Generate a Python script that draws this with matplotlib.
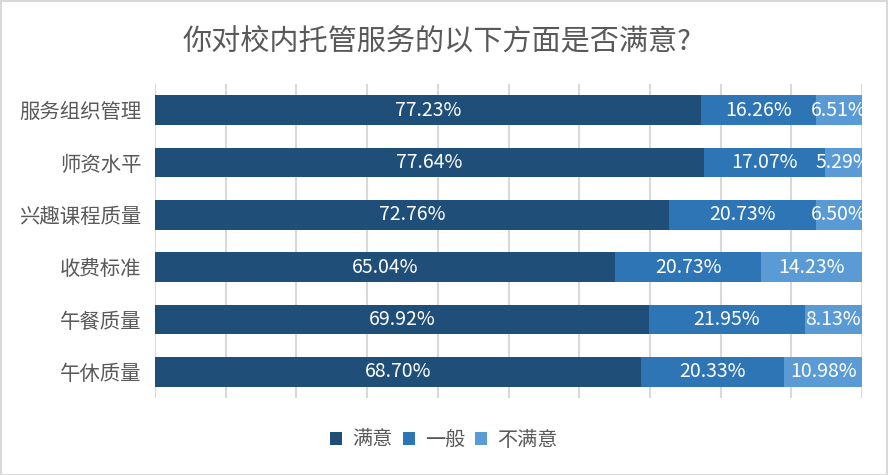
import matplotlib.pyplot as plt
import numpy as np

plt.rcParams['font.family'] = ['Noto Sans CJK SC', 'DejaVu Sans']

categories = ['服务组织管理', '师资水平', '兴趣课程质量', '收费标准', '午餐质量', '午休质量']
series_names = ['满意', '一般', '不满意']
satisfied = [77.23, 77.64, 72.76, 65.04, 69.92, 68.70]
neutral = [16.26, 17.07, 20.73, 20.73, 21.95, 20.33]
unsatisfied = [6.51, 5.29, 6.50, 14.23, 8.13, 10.98]
colors = ['#1F4E79', '#2E75B6', '#5B9BD5']

fig = plt.figure(figsize=(8.88, 4.75), dpi=100)
ax = fig.add_axes([155 / 888, 1 - 398 / 475, 707 / 888, 314 / 475])

y = np.arange(len(categories))
left = np.zeros(len(categories))
for name, vals, col in zip(series_names, [satisfied, neutral, unsatisfied], colors):
    vals = np.array(vals)
    ax.barh(y, vals, left=left, height=0.57, color=col, label=name, zorder=2)
    for yi, l, v in zip(y, left, vals):
        ax.text(l + v / 2, yi, f'{v:.2f}%', ha='center', va='center',
                color='white', fontsize=14, fontweight='light', zorder=3)
    left += vals

ax.set_xlim(0, 100)
ax.set_ylim(len(categories) - 0.5, -0.5)
ax.set_xticks(np.arange(0, 101, 10))
ax.set_xticklabels([])
ax.tick_params(axis='x', length=0)
ax.tick_params(axis='y', length=0, labelsize=14.7, labelcolor='#595959', pad=10)
ax.set_yticks(y)
ax.set_yticklabels(categories)
ax.grid(axis='x', color='#D9D9D9', linewidth=1.5, zorder=0)
for s in ax.spines.values():
    s.set_visible(False)

fig.text(437 / 888, 1 - 42 / 475, '你对校内托管服务的以下方面是否满意?', ha='center', va='center',
         fontsize=21, color='#595959')

leg = ax.legend(loc='center', frameon=False, ncol=3, fontsize=14.5,
                handlelength=0.6, handleheight=0.6,
                columnspacing=0.5, handletextpad=0.5, labelcolor='#595959')
leg.set_bbox_to_anchor((0.5, 1 - 440 / 475), transform=fig.transFigure)

fig.patches.append(plt.Rectangle((0.001, 0.001), 0.998, 0.997, transform=fig.transFigure,
                                 fill=False, edgecolor='#D9D9D9', linewidth=1.5))

plt.savefig('out.png', dpi=100)
